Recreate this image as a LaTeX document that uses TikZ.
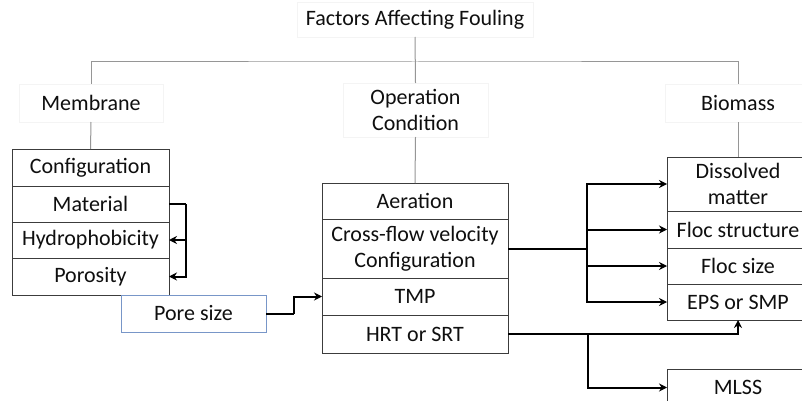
\documentclass[tikz,border=0pt]{standalone}
\usepackage{fontspec}
\setmainfont{Carlito}
\usetikzlibrary{arrows.meta}
\definecolor{boxline}{RGB}{60,60,60}
\definecolor{treeline}{RGB}{150,150,150}
\definecolor{faint}{RGB}{244,244,244}
\definecolor{poreblue}{RGB}{120,150,200}
\definecolor{txt}{RGB}{15,15,15}
\tikzset{
  cell/.style={draw=boxline, line width=1pt, inner sep=0pt, outer sep=0pt, align=center, text=txt, font=\fontsize{22}{26}\selectfont},
  head/.style={draw=faint, line width=0.6pt, inner sep=0pt, outer sep=0pt, align=center, text=txt, font=\fontsize{22}{26}\selectfont},
  tree/.style={draw=treeline, line width=1pt},
  arr/.style={draw=black, line width=2pt, -{Stealth[length=8pt,width=8pt]}},
  ln/.style={draw=black, line width=2pt}
}
\begin{document}
\begin{tikzpicture}[x=1pt,y=-1pt]
\clip (0,0) rectangle (802,401);
\fill[white] (0,0) rectangle (802,401);
% headers
\node[head, minimum width=236pt, minimum height=35pt] (ttl) at (415,19.5) {Factors Affecting Fouling};
\node[head, minimum width=144pt, minimum height=38pt] (mem) at (91,103) {Membrane};
\node[head, minimum width=145pt, minimum height=54pt] (op) at (415.5,110) {Operation\\Condition};
\node[head, minimum width=146pt, minimum height=38pt] (bio) at (738,103) {Biomass};
% membrane stack
\node[cell, minimum width=157pt, minimum height=37pt] (conf) at (90.5,167.5) {Configuration};
\node[cell, minimum width=157pt, minimum height=36pt] (mat) at (90.5,204) {Material};
\node[cell, minimum width=157pt, minimum height=36pt] (hyd) at (90.5,240) {Hydrophobicity};
\node[cell, minimum width=157pt, minimum height=37pt] (por) at (90.5,276.5) {Porosity};
\node[cell, draw=poreblue, minimum width=145pt, minimum height=37pt] (pore) at (193.5,313.5) {Pore size};
% operation stack
\node[cell, minimum width=186pt, minimum height=36pt] (aer) at (415,201) {Aeration};
\node[cell, minimum width=186pt, minimum height=59pt] (cfv) at (415,248.5) {Cross-flow velocity\\Configuration};
\node[cell, minimum width=186pt, minimum height=37pt] (tmp) at (415,296.5) {TMP};
\node[cell, minimum width=186pt, minimum height=38pt] (hrt) at (415,334) {HRT or SRT};
% biomass stack
\node[cell, minimum width=142pt, minimum height=54pt] (dis) at (738,184) {Dissolved\\matter};
\node[cell, minimum width=142pt, minimum height=37pt] (fst) at (738,229.5) {Floc structure};
\node[cell, minimum width=142pt, minimum height=36pt] (fsz) at (738,266) {Floc size};
\node[cell, minimum width=142pt, minimum height=36pt] (eps) at (738,302) {EPS or SMP};
\node[cell, minimum width=142pt, minimum height=37pt] (mlss) at (738,387.5) {MLSS};
% tree lines
\coordinate (hj) at (415,62);
\draw[tree] (mem.north) |- (hj) -| (bio.north);
\draw[tree] (ttl.south) -- (op.north);
\draw[tree] (mem.south) -- (conf.north);
\draw[tree] (op.south) -- (aer.north);
\draw[tree] (bio.south) -- (dis.north);
% membrane bracket
\coordinate (bx) at (186,204);
\draw[ln] (mat.east) -- (bx);
\draw[arr] (bx) |- (hyd.east);
\draw[arr] (bx) |- (por.east);
% pore size to TMP
\coordinate (px) at (294,313.5);
\draw[ln] (pore.east) -- (px);
\draw[arr] (px) |- (tmp.west);
% cross-flow to biomass
\coordinate (j1) at (587,248.5);
\draw[ln] (cfv.east) -- (j1);
\draw[arr] (j1) |- (dis.west);
\draw[arr] (j1) |- (fst.west);
\draw[arr] (j1) |- (fsz.west);
\draw[arr] (j1) |- (eps.west);
% HRT
\coordinate (j2) at (588,334);
\draw[arr] (hrt.east) -| (eps.south);
\draw[arr] (j2) |- (mlss.west);
\end{tikzpicture}
\end{document}
